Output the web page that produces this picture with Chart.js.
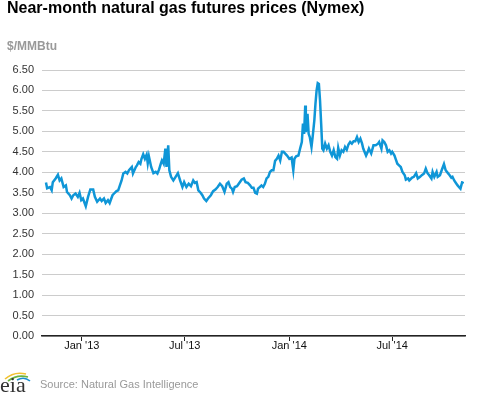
<!DOCTYPE html>
<html>
<head>
<meta charset="utf-8">
<script src="https://cdn.jsdelivr.net/npm/chart.js@4.4.1/dist/chart.umd.min.js"></script>
<style>
    html, body { margin: 0; padding: 0; background: #fff; }
    #wrap { position: relative; width: 477px; height: 393px; overflow: hidden; font-family: 'Liberation Sans', Arial, sans-serif; }
    #chart { position: absolute; left: 0; top: 0; }
    .title { position: absolute; left: 7px; top: 0; font-size: 16px; line-height: 16px; font-weight: bold; color: #000; white-space: nowrap; }
    .units { position: absolute; left: 7px; top: 40px; font-size: 12px; line-height: 12px; font-weight: bold; color: #999; }
    .source { position: absolute; left: 40px; top: 379px; font-size: 11px; line-height: 11px; color: #999; white-space: nowrap; }
    .logo { position: absolute; left: 0; top: 371px; }
</style>
</head>
<body>
<div id="wrap">
    <canvas id="chart" width="477" height="393"></canvas>
    <div class="title">Near-month natural gas futures prices (Nymex)</div>
    <div class="units">$/MMBtu</div>
    <svg class="logo" width="32" height="22" viewBox="0 0 32 22">
        <path d="M5 8 Q14 0 26 3" stroke="#f2c230" stroke-width="1.6" fill="none"/>
        <path d="M8 10 Q17 3 28 6" stroke="#6cb33f" stroke-width="1.6" fill="none"/>
        <path d="M17 9 Q24 5 30 10" stroke="#1a8fd0" stroke-width="1.6" fill="none"/>
        <text x="0" y="21" font-family="'Liberation Serif', 'DejaVu Serif', serif" font-size="22" fill="#333">eia</text>
    </svg>
    <div class="source">Source: Natural Gas Intelligence</div>
</div>
<script>
// ===================================
// DATA
// ===================================

// days counted from 1 Jan 2013
const days = [
    -63, -61, -56, -53, -51, -46, -42, -39, -36, -32, -28, -26, -21, -18, -15, -11, -7, -4, -1,
    2, 7, 11, 15, 20, 23, 27, 32, 35, 39, 42, 46, 49, 54, 58, 61, 64, 67, 70, 73, 77, 80, 83,
    88, 90, 95, 97, 100, 103, 105, 108, 111, 114, 116, 118, 122, 126, 130, 133, 136, 139, 141,
    144, 147, 149, 152, 154, 157, 161, 165, 169, 173, 177, 180, 184, 188, 192, 196, 199, 202,
    205, 209, 212, 215, 219, 222, 227, 231, 235, 239, 243, 247, 251, 255, 258, 261, 264, 266,
    269, 273, 277, 281, 285, 288, 292, 296, 299, 302, 305, 308, 310, 313, 316, 319, 322, 325,
    328, 331, 334, 337, 340, 343, 346, 349, 352, 355, 357, 361, 365, 369, 372, 374, 377, 381,
    384, 387, 389, 391, 393, 394, 397, 399, 401, 404, 406, 409, 411, 413, 415, 417, 419, 421,
    423, 425, 428, 431, 434, 437, 440, 443, 446, 449, 451, 454, 457, 460, 463, 466, 469, 472,
    475, 478, 481, 484, 487, 490, 493, 495, 500, 503, 505, 509, 513, 517, 521, 523, 527, 529,
    532, 535, 538, 541, 544, 546, 550, 552, 555, 558, 561, 564, 568, 570, 574, 576, 581, 584,
    588, 591, 595, 598, 602, 605, 608, 611, 615, 617, 620, 624, 626, 630, 633, 637, 640, 644,
    647, 650, 652, 655, 658, 661, 664, 666, 669, 670
];

const prices = [
    3.75, 3.61, 3.64, 3.56, 3.76, 3.85, 3.94, 3.80, 3.85, 3.64, 3.68, 3.52, 3.44, 3.36, 3.44, 3.48, 3.40, 3.50, 3.32,
    3.36, 3.17, 3.40, 3.58, 3.58, 3.40, 3.28, 3.36, 3.30, 3.36, 3.25, 3.32, 3.25, 3.44, 3.50, 3.54, 3.56, 3.68, 3.80, 3.97, 4.01, 3.97, 4.05,
    4.13, 3.97, 4.13, 4.17, 4.25, 4.21, 4.33, 4.44, 4.33, 4.43, 4.22, 4.39, 4.13, 3.98, 4.01, 3.97, 4.07, 4.21, 4.29,
    4.21, 4.58, 4.13, 4.66, 4.05, 3.89, 3.80, 3.89, 3.98, 3.80, 3.64, 3.76, 3.64, 3.72, 3.66, 3.80, 3.74, 3.76,
    3.56, 3.50, 3.44, 3.36, 3.30, 3.36, 3.44, 3.54, 3.58, 3.64, 3.72, 3.66, 3.52, 3.72, 3.76, 3.64, 3.60, 3.52,
    3.64, 3.66, 3.74, 3.82, 3.85, 3.76, 3.74, 3.68, 3.62, 3.62, 3.50, 3.48, 3.60, 3.64, 3.68, 3.64, 3.72, 3.85,
    3.89, 4.01, 4.05, 4.05, 4.28, 4.33, 4.41, 4.29, 4.50, 4.50, 4.47, 4.41, 4.33, 4.36, 4.05, 4.33, 4.39, 4.41,
    4.58, 4.74, 5.19, 4.94, 5.63, 4.98, 5.43, 4.94, 4.86, 4.62, 4.86, 5.27, 5.68, 6.00, 6.18, 6.16, 5.76, 5.19,
    4.58, 4.54, 4.70, 4.58, 4.66, 4.50, 4.41, 4.54, 4.37, 4.33, 4.60, 4.41, 4.54, 4.50, 4.62, 4.55, 4.68, 4.74,
    4.70, 4.76, 4.76, 4.86, 4.74, 4.82, 4.70, 4.58, 4.41, 4.50, 4.58, 4.46, 4.66, 4.66, 4.70, 4.74, 4.58, 4.78,
    4.74, 4.66, 4.50, 4.54, 4.46, 4.50, 4.41, 4.33, 4.21, 4.17, 4.13, 4.01, 3.93, 3.82, 3.85, 3.80, 3.87, 3.89,
    3.98, 3.85, 3.89, 3.93, 3.97, 4.09, 3.98, 3.93, 3.85, 4.01, 3.89, 4.01, 3.89, 3.93, 4.05, 4.20, 4.05, 3.98,
    3.93, 3.87, 3.89, 3.80, 3.74, 3.68, 3.63, 3.60, 3.76, 3.77
];

// x axis tick positions (days from 1 Jan 2013) and their labels
const tickDays = [0, 181, 365, 546];
const tickLabels = ["Jan '13", "Jul '13", "Jan '14", "Jul '14"];

// ===================================
// CHART
// ===================================

Chart.defaults.font.family = "'Liberation Sans', Arial, sans-serif";

const points = days.map((d, i) => ({ x: d, y: prices[i] }));

new Chart(document.getElementById('chart'), {
    type: 'line',
    data: {
        datasets: [{
            label: 'Near-month price',
            data: points,
            borderColor: '#0f96d7',
            borderWidth: 2.5,
            pointRadius: 0,
            tension: 0,
            fill: false
        }]
    },
    options: {
        responsive: false,
        animation: false,
        devicePixelRatio: 1,
        layout: {
            padding: { top: 70, right: 12, left: 0, bottom: 0 }
        },
        plugins: {
            legend: { display: false },
            tooltip: { enabled: false }
        },
        scales: {
            x: {
                type: 'linear',
                min: -70,
                max: 674,
                afterFit: scale => { scale.height = 57; },
                afterBuildTicks: scale => {
                    scale.ticks = tickDays.map(v => ({ value: v }));
                },
                ticks: {
                    autoSkip: false,
                    maxRotation: 0,
                    minRotation: 0,
                    padding: -2,
                    color: '#111',
                    font: { size: 11 },
                    callback: (value, index) => tickLabels[index]
                },
                grid: {
                    drawOnChartArea: false,
                    drawTicks: true,
                    tickLength: 5,
                    color: '#222'
                },
                border: { display: true, color: '#222', width: 1.5 }
            },
            y: {
                min: 0,
                max: 6.5,
                afterFit: scale => { scale.width = 42; },
                ticks: {
                    stepSize: 0.5,
                    padding: 8,
                    color: '#333',
                    font: { size: 11 },
                    callback: v => v.toFixed(2)
                },
                grid: {
                    color: '#cccccc',
                    lineWidth: 1,
                    drawTicks: false
                },
                border: { display: false }
            }
        }
    }
});
</script>
</body>
</html>
